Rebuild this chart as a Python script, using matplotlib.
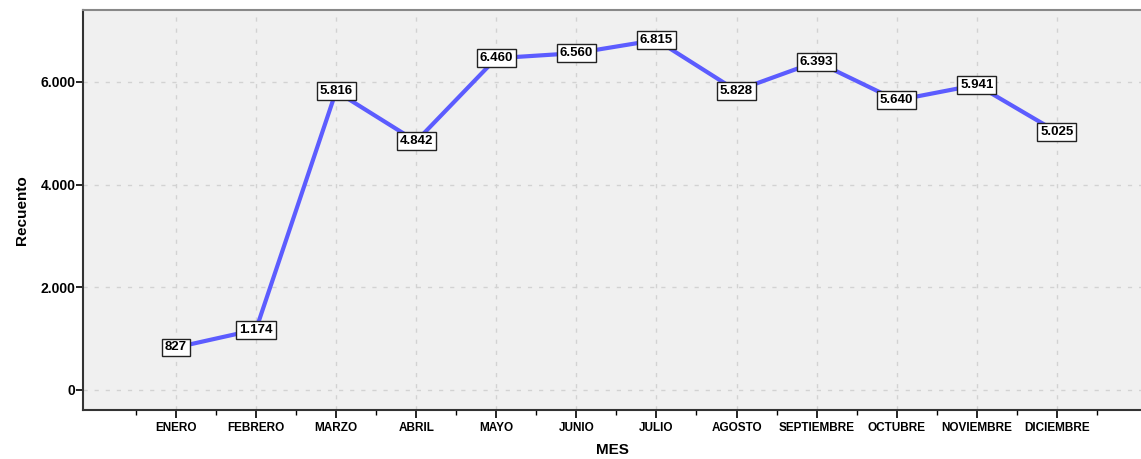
import numpy as np
import matplotlib.pyplot as plt
from matplotlib.ticker import FixedLocator, FuncFormatter

meses = ["ENERO", "FEBRERO", "MARZO", "ABRIL", "MAYO", "JUNIO", "JULIO",
         "AGOSTO", "SEPTIEMBRE", "OCTUBRE", "NOVIEMBRE", "DICIEMBRE"]
recuento = [827, 1174, 5816, 4842, 6460, 6560, 6815, 5828, 6393, 5640, 5941, 5025]

plt.rcParams['font.family'] = ['Liberation Sans', 'DejaVu Sans']


def fmt_miles(v):
    return f"{int(round(v)):,}".replace(",", ".")


fig = plt.figure(figsize=(11.41, 4.59), dpi=100)
ax = fig.add_axes([0.0727, 0.1068, 0.9273, 0.8715])
ax.set_facecolor('#f0f0f0')

x = np.arange(len(meses))
ax.plot(x, recuento, color='#5c5cff', linewidth=3, zorder=3)

for xi, yi in zip(x, recuento):
    ax.annotate(fmt_miles(yi), (xi, yi), ha='center', va='center',
                fontsize=9.5, fontweight='bold', zorder=4,
                bbox=dict(boxstyle='square,pad=0.22', fc='white', ec='#222222', lw=1))

ax.set_xlim(-1.16, 12.05)
ax.set_ylim(-390, 7400)

ax.set_xticks(x)
ax.set_xticklabels(meses, fontsize=8.5, fontweight='bold')
ax.xaxis.set_minor_locator(FixedLocator(np.arange(-0.5, 12, 1.0)))
ax.set_yticks([0, 2000, 4000, 6000])
ax.yaxis.set_major_formatter(FuncFormatter(lambda v, p: fmt_miles(v)))
for lbl in ax.get_yticklabels():
    lbl.set_fontweight('bold')
    lbl.set_fontsize(10)

ax.tick_params(axis='x', which='major', length=6, width=1.2, pad=3)
ax.tick_params(axis='x', which='minor', length=3.5, width=1)
ax.tick_params(axis='y', which='major', length=5, width=1.2, pad=0.5)

ax.grid(True, which='major', color='#d2d2d2', linestyle=(0, (3, 5)), linewidth=1)
ax.set_axisbelow(True)

ax.spines['right'].set_visible(False)
ax.spines['top'].set_color('#888888')
ax.spines['top'].set_linewidth(1.5)
ax.spines['left'].set_color('#333333')
ax.spines['left'].set_linewidth(1.5)
ax.spines['bottom'].set_color('#333333')
ax.spines['bottom'].set_linewidth(1.5)

ax.set_xlabel("MES", fontsize=11, fontweight='bold', labelpad=6)
ax.set_ylabel("Recuento", fontsize=11, fontweight='bold', labelpad=8)

fig.savefig('out.png', dpi=100)
